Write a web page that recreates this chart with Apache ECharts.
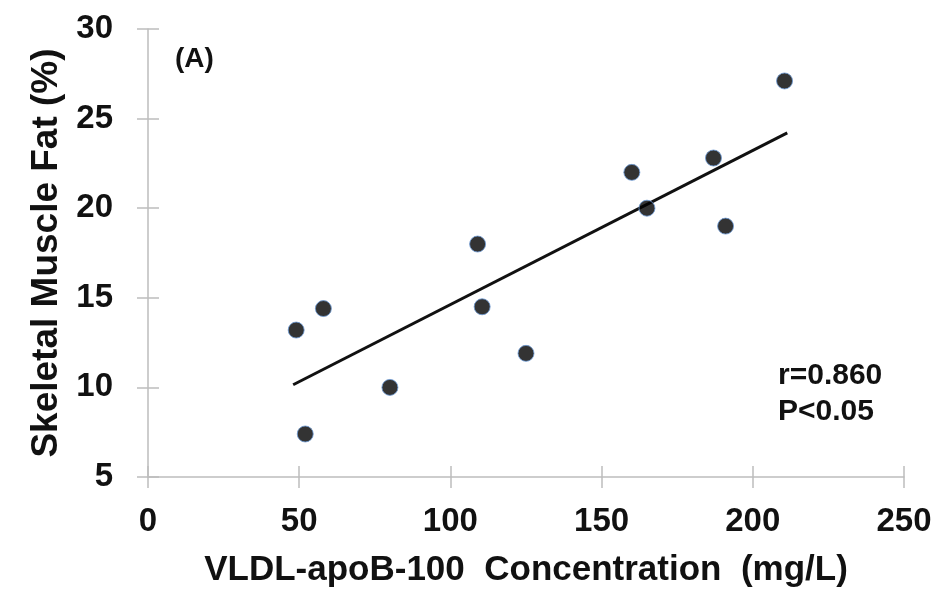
<!DOCTYPE html>
<html>
<head>
<meta charset="utf-8">
<title>Skeletal Muscle Fat vs VLDL-apoB-100</title>
<script src="https://cdn.jsdelivr.net/npm/echarts@6/dist/echarts.min.js"></script>
<style>
  html, body { margin: 0; padding: 0; background: #fff; }
  #chart { width: 941px; height: 600px; }
</style>
</head>
<body>
<div id="chart"></div>
<script>
// 数据点 (x: VLDL-apoB-100 mg/L, y: 骨骼肌脂肪 %)
var vldlConc = [49, 52, 58, 80, 109, 110.5, 125, 160, 165, 187, 191, 210.5];
var muscleFat = [13.2, 7.4, 14.4, 10, 18, 14.5, 11.9, 22, 20, 22.8, 19, 27.1];
// 回归线两端
var fitX = [48, 211.4];
var fitY = [10.15, 24.2];

var xTicks = [0, 50, 100, 150, 200, 250];
var yTicks = [5, 10, 15, 20, 25, 30];

var FONT = '"Liberation Sans", Arial, sans-serif';
var AXIS_GRAY = '#bdbdbd';
var INK = '#111';

function zip(a, b) {
  return a.map(function (v, i) { return [v, b[i]]; });
}

// 原图刻度穿过轴线: 主轴画外侧刻度, 副轴画内侧刻度
function tickStyle(inside) {
  return { show: true, inside: inside, length: 11, lineStyle: { color: AXIS_GRAY, width: 1.5 } };
}

var chart = echarts.init(document.getElementById('chart'), null, { renderer: 'canvas' });

chart.setOption({
  animation: false,
  grid: { left: 148, right: 37, top: 29, bottom: 123, containLabel: false },
  xAxis: [
    {
      type: 'value',
      min: xTicks[0], max: xTicks[xTicks.length - 1], interval: 50,
      name: 'VLDL-apoB-100  Concentration  (mg/L)',
      nameLocation: 'middle',
      nameGap: 76,
      nameTextStyle: { fontFamily: FONT, fontWeight: 'bold', fontSize: 35, color: INK },
      axisLine: { show: true, lineStyle: { color: AXIS_GRAY, width: 1.5 } },
      axisTick: tickStyle(false),
      axisLabel: { margin: 28, fontFamily: FONT, fontWeight: 'bold', fontSize: 33, color: INK },
      splitLine: { show: false }
    },
    {
      type: 'value', position: 'bottom',
      min: xTicks[0], max: xTicks[xTicks.length - 1], interval: 50,
      axisLine: { show: false },
      axisTick: tickStyle(true),
      axisLabel: { show: false },
      splitLine: { show: false }
    }
  ],
  yAxis: [
    {
      type: 'value',
      min: yTicks[0], max: yTicks[yTicks.length - 1], interval: 5,
      name: 'Skeletal Muscle Fat (%)',
      nameLocation: 'middle',
      nameGap: 82,
      nameTextStyle: { fontFamily: FONT, fontWeight: 'bold', fontSize: 37, color: INK },
      axisLine: { show: true, lineStyle: { color: AXIS_GRAY, width: 1.5 } },
      axisTick: tickStyle(false),
      axisLabel: { margin: 35, fontFamily: FONT, fontWeight: 'bold', fontSize: 33, color: INK },
      splitLine: { show: false }
    },
    {
      type: 'value', position: 'left',
      min: yTicks[0], max: yTicks[yTicks.length - 1], interval: 5,
      axisLine: { show: false },
      axisTick: tickStyle(true),
      axisLabel: { show: false },
      splitLine: { show: false }
    }
  ],
  series: [
    {
      type: 'line',
      data: zip(fitX, fitY),
      symbol: 'none',
      lineStyle: { color: INK, width: 3 },
      z: 2
    },
    {
      type: 'scatter',
      data: zip(vldlConc, muscleFat),
      symbol: 'circle',
      symbolSize: 16,
      itemStyle: { color: '#000', borderColor: '#6c9ad6', borderWidth: 1 },
      z: 3
    }
  ],
  graphic: [
    {
      type: 'text', left: 175, top: 45,
      style: { text: '(A)', font: 'bold 28px ' + FONT, fill: INK }
    },
    {
      type: 'text', left: 778, top: 358,
      style: { text: 'r=0.860\nP<0.05', font: 'bold 30px ' + FONT, fill: INK, lineHeight: 36 }
    }
  ]
});
</script>
</body>
</html>
